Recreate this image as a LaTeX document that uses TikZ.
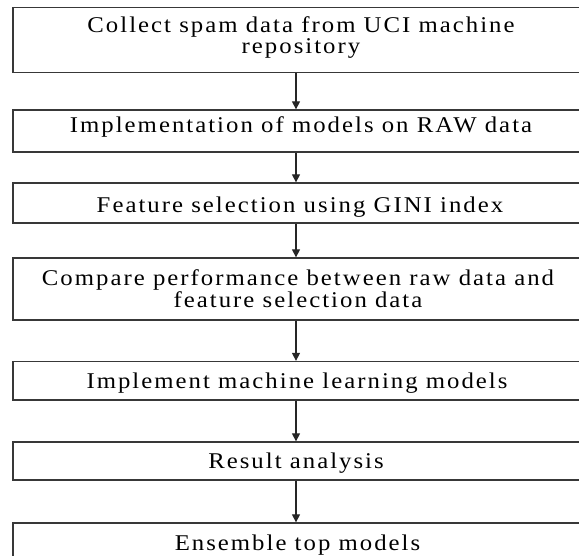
\documentclass[tikz,border=0pt]{standalone}
\usepackage{fontspec}
\setmainfont{Liberation Serif}[LetterSpace=9,FakeStretch=1.1]
\usetikzlibrary{arrows.meta}
\begin{document}
\begin{tikzpicture}[x=1pt,y=-1pt,
  box/.style={draw=black!78,line width=1.3pt,rectangle,minimum width=570pt,inner sep=0pt},
  lbl/.style={anchor=base,inner sep=0pt,align=center,font=\fontsize{22.5}{21.5}\selectfont,text=black},
  flow/.style={draw=black!85,line width=1.2pt,-{Triangle[width=8pt,length=8pt]}}]
\useasboundingbox (0,0) rectangle (579,555);
\begin{scope}
\clip (0,0) rectangle (579,555);
\node[box,minimum height=65pt] (b1) at (298,40) {};
\node[box,minimum height=42pt] (b2) at (298,131) {};
\node[box,minimum height=40pt] (b3) at (298,203) {};
\node[box,minimum height=62pt] (b4) at (298,289) {};
\node[box,minimum height=38.5pt] (b5) at (298,380.75) {};
\node[box,minimum height=38pt] (b6) at (298,461) {};
\node[box,minimum height=40pt] (b7) at (298,543) {};
\end{scope}
\node[lbl] (t1) at (301,53.5) {Collect spam data from UCI machine\\repository};
\node[lbl] (t2) at (301,132.5) {Implementation of models on RAW data};
\node[lbl] (t3) at (300,212) {Feature selection using GINI index};
\node[lbl] (t4) at (298,307) {Compare performance between raw data and\\feature selection data};
\node[lbl] (t5) at (297,388) {Implement machine learning models};
\node[lbl] (t6) at (296,468) {Result analysis};
\node[lbl] (t7) at (297.5,550) {Ensemble top models};
\coordinate (ax) at (296,0);
\draw[flow] (b1.south -| ax) -- (b2.north -| ax);
\draw[flow] (b2.south -| ax) -- (b3.north -| ax);
\draw[flow] (b3.south -| ax) -- (b4.north -| ax);
\draw[flow] (b4.south -| ax) -- (b5.north -| ax);
\draw[flow] (b5.south -| ax) -- (b6.north -| ax);
\draw[flow] (b6.south -| ax) -- (b7.north -| ax);
\end{tikzpicture}
\end{document}
